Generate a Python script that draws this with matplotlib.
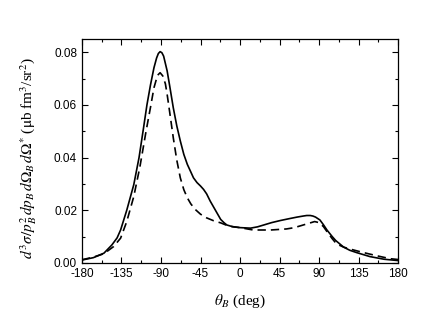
import matplotlib
matplotlib.use("Agg")
import matplotlib.pyplot as plt
from matplotlib.ticker import MultipleLocator

plt.rcParams['font.family'] = ['Liberation Sans', 'DejaVu Sans']
plt.rcParams['mathtext.fontset'] = 'stix'

theta_solid = [-180, -167, -155, -146, -140, -136, -129, -121, -115, -110, -106, -102, -98, -95, -93, -91,
               -89, -87, -83, -80, -76, -72, -68, -64, -60, -56, -53, -49, -45, -41.5, -38, -34, -28, -22,
               -18, -15, -8, 0, 12, 20, 27, 36, 46, 56, 65, 72, 76, 80, 83, 86, 91, 95, 99, 105, 109, 118,
               125, 133, 148, 164, 180]
val_solid = [0.0011, 0.0020, 0.0037, 0.0068, 0.0095, 0.0125, 0.0200, 0.0297, 0.0400, 0.0510, 0.0600,
             0.0675, 0.0741, 0.0778, 0.0795, 0.0802, 0.0798, 0.0785, 0.0729, 0.0670, 0.0589, 0.0520,
             0.0463, 0.0412, 0.0374, 0.0345, 0.0323, 0.0305, 0.0292, 0.0279, 0.0262, 0.0235, 0.0200,
             0.0165, 0.0152, 0.0144, 0.0137, 0.0134, 0.0132, 0.0137, 0.0144, 0.0153, 0.0161, 0.0168,
             0.0174, 0.0178, 0.0180, 0.0180, 0.0178, 0.0174, 0.0163, 0.0145, 0.0125, 0.0100, 0.0085,
             0.0060, 0.0048, 0.0039, 0.0024, 0.0014, 0.0009]

theta_dash = [-180, -167, -155, -144, -136, -129, -121, -114, -107, -102, -98, -94, -91, -88, -85, -83,
              -80, -76, -72, -68, -64, -60, -56, -51, -45, -38, -30, -22, -13, 0, 15, 35, 53, 62, 69, 75,
              80, 85, 90, 95, 99, 105, 110, 118, 126, 141, 156, 171, 180]
val_dash = [0.0012, 0.0022, 0.0035, 0.0062, 0.0094, 0.0157, 0.0252, 0.0365, 0.0500, 0.0590, 0.0665,
            0.0712, 0.0722, 0.0710, 0.0680, 0.0640, 0.0570, 0.0475, 0.0390, 0.0323, 0.0278, 0.0247,
            0.0224, 0.0203, 0.0185, 0.0171, 0.0160, 0.0152, 0.0140, 0.0134, 0.0125, 0.0125, 0.0129,
            0.0134, 0.0141, 0.0147, 0.0152, 0.0157, 0.0153, 0.0138, 0.0119, 0.0092, 0.0072, 0.0060,
            0.0052, 0.0039, 0.0027, 0.0016, 0.0013]

xticks = [-180, -135, -90, -45, 0, 45, 90, 135, 180]
yticks = [0.00, 0.02, 0.04, 0.06, 0.08]

fig = plt.figure(figsize=(4.36, 3.25), dpi=100)
ax = fig.add_axes([0.188, 0.191, 0.725, 0.689])

ax.plot(theta_solid, val_solid, color='black', lw=1.2, ls='-')
ax.plot(theta_dash, val_dash, color='black', lw=1.2, ls=(0, (5, 3)))

ax.set_xlim(-180, 180)
ax.set_ylim(0, 0.085)
ax.set_xticks(xticks)
ax.set_xticklabels([str(t) for t in xticks])
ax.set_yticks(yticks)
ax.set_yticklabels([f"{t:.2f}" for t in yticks])
ax.xaxis.set_minor_locator(MultipleLocator(22.5))
ax.yaxis.set_minor_locator(MultipleLocator(0.01))
ax.tick_params(which='both', direction='in', top=True, right=True, labelsize=8.5, width=0.8)
ax.tick_params(which='major', length=4)
ax.tick_params(which='minor', length=2.5)
ax.tick_params(axis='x', pad=4)
for s in ax.spines.values():
    s.set_linewidth(0.9)

ax.set_xlabel(r'$\theta_{B}$ (deg)', fontsize=11, family='Liberation Serif')
ax.xaxis.set_label_coords(0.5, -0.135)
ax.set_ylabel(r'$d^{3}\sigma/p_{B}^{2}\,dp_{B}\,d\Omega_{B}\,d\Omega^{*}$ ($\mathrm{\mu}$b fm$^{3}$/sr$^{2}$)',
              fontsize=11, family='Liberation Serif')
ax.yaxis.set_label_coords(-0.135, 0.47)

fig.savefig('out.png', dpi=100)
